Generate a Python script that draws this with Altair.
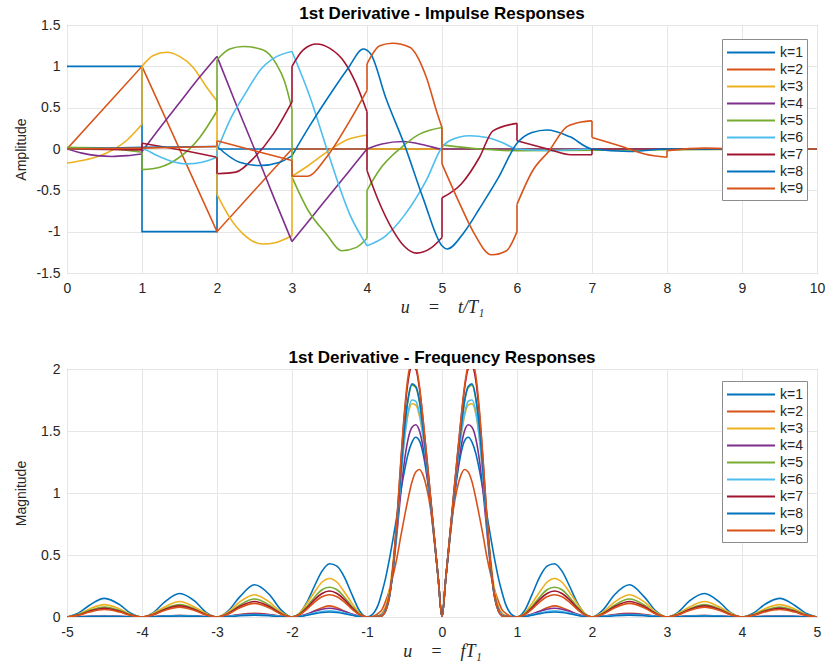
import altair as alt
import pandas as pd

K_LABELS = ["k=1", "k=2", "k=3", "k=4", "k=5", "k=6", "k=7", "k=8", "k=9"]
COLORS = ["#0072BD", "#D95319", "#EDB120", "#7E2F8E", "#77AC30",
          "#4DBEEE", "#A2142F", "#0072BD", "#D95319"]

# ---------------- impulse responses (u = t/T1, amplitude) ----------------
# a repeated u value marks a jump (or a sharp corner when the amplitude repeats too)
T1_u = [0, 1, 1, 2, 2, 10]
T1_a = [1, 1, -1, -1, 0, 0]
T2_u = [0, 1, 2, 3, 10]
T2_a = [0, 1, -1, 0, 0]
T3_u = [0, 0.25, 0.5, 0.79, 1, 1, 1.15, 1.33, 1.5, 1.68, 1.86, 2,
        2, 2.17, 2.35, 2.61, 2.79, 3, 3, 3.22, 3.49, 3.76, 4, 4, 10]
T3_a = [-0.17, -0.13, -0.06, 0.1, 0.3, 1.0, 1.13, 1.17, 1.12, 0.99, 0.75, 0.58,
        -0.55, -0.83, -1.03, -1.15, -1.13, -1.05, -0.33, -0.2, -0.02, 0.12, 0.17, 0, 0]
T4_u = [0, 0.2, 0.4, 0.6, 0.8, 1, 1, 1.25, 1.5, 1.75, 2, 2, 2.25, 2.5, 2.75, 3, 3,
        3.25, 3.5, 3.75, 4, 4, 4.2, 4.48, 4.8, 5, 10]
T4_a = [0, -0.05, -0.08, -0.09, -0.08, -0.06, -0.03, 0.27, 0.56, 0.85, 1.12, 1.12, 0.55, 0.0, -0.57, -1.12, -1.12,
        -0.84, -0.56, -0.28, 0.0, 0.0, 0.06, 0.09, 0.04, 0.0, 0]
T5_u = [0, 0.5, 1, 1, 1.24, 1.5, 1.77, 2, 2, 2.17, 2.35, 2.61, 2.79, 2.9, 3,
        3, 3.22, 3.46, 3.66, 3.86, 4, 4, 4.16, 4.46, 4.7, 5, 5, 5.5, 6, 10]
T5_a = [0.02, 0.01, -0.04, -0.25, -0.22, -0.1, 0.14, 0.46, 1.08, 1.21, 1.24, 1.2, 1.03, 0.82, 0.48,
        -0.34, -0.75, -1.03, -1.23, -1.19, -1.08, -0.5, -0.26, 0.02, 0.18, 0.26, 0.05, 0.0, -0.02, 0]
T6_u = [0, 1, 1.2, 1.4, 1.6, 1.8, 2, 2, 2.2, 2.35, 2.6, 2.8, 3, 3, 3.24, 3.5, 3.77, 4, 4,
        4.25, 4.5, 4.79, 5, 5.1, 5.37, 5.6, 5.8, 6, 6.5, 7, 10]
T6_a = [0, 0, -0.08, -0.15, -0.18, -0.16, -0.1, -0.02, 0.4, 0.63, 0.98, 1.12, 1.18, 1.18, 0.63, -0.1, -0.79, -1.17, -1.17,
        -1.05, -0.8, -0.38, 0.02, 0.1, 0.16, 0.14, 0.08, 0.0, -0.02, 0, 0]
T7_u = [0, 1, 1, 1.5, 2, 2, 2.25, 2.5, 2.75, 3, 3, 3.15, 3.33, 3.5, 3.7, 3.85, 4,
        4, 4.15, 4.35, 4.5, 4.66, 4.85, 5, 5, 5.26, 5.5, 5.68, 6, 6, 6.41, 6.72, 7, 7, 8, 10]
T7_a = [0, -0.01, 0.07, -0.01, -0.1, -0.3, -0.28, -0.1, 0.18, 0.57, 1.0, 1.2, 1.27, 1.22, 1.05, 0.8, 0.45,
        -0.26, -0.62, -0.99, -1.18, -1.26, -1.2, -1.07, -0.59, -0.42, -0.1, 0.22, 0.31, 0.1, 0.0, -0.07, -0.07, 0, 0, 0]
T8_u = [0, 1, 2, 2, 2.3, 2.57, 2.84, 3, 3, 3.25, 3.5, 3.75, 3.95, 4.05, 4.25, 4.5, 4.75, 5, 5.07,
        5.3, 5.5, 5.75, 6, 6.2, 6.4, 6.7, 7, 7.5, 8, 10]
T8_a = [0, 0.02, 0.03, 0.03, -0.16, -0.2, -0.16, -0.08, -0.08, 0.3, 0.65, 0.98, 1.21, 1.15, 0.62, 0.05, -0.6, -1.17, -1.21,
        -1.0, -0.72, -0.35, 0.07, 0.2, 0.23, 0.15, 0.0, -0.03, 0, 0]
T9_u = [0, 1, 2, 2, 2.5, 3, 3, 3.2, 3.46, 3.77, 4, 4, 4.17, 4.34, 4.57, 4.79, 4.94, 5,
        5, 5.24, 5.41, 5.66, 5.86, 6, 6, 6.21, 6.43, 6.65, 6.82, 7, 7, 7.4, 7.7, 8, 8, 8.5, 9, 10]
T9_a = [0, 0.01, 0.03, 0.1, -0.02, -0.14, -0.33, -0.33, -0.1, 0.34, 0.71, 1.03, 1.25, 1.28, 1.23, 0.87, 0.42, 0.26,
        -0.18, -0.67, -0.99, -1.28, -1.23, -1.0, -0.67, -0.26, -0.02, 0.26, 0.32, 0.34, 0.14, 0.03, -0.06, -0.1, -0.02, 0.01, 0, 0]

T_U = [T1_u, T2_u, T3_u, T4_u, T5_u, T6_u, T7_u, T8_u, T9_u]
T_A = [T1_a, T2_a, T3_a, T4_a, T5_a, T6_a, T7_a, T8_a, T9_a]
PIECEWISE_LINEAR = ["k=1", "k=2"]

# ---------------- frequency responses (u = f T1 >= 0, magnitude; symmetric) ----------------
G = [0, .05, .1, .15, .2, .25, .3, .35, .4, .45, .5, .55, .6, .65, .7, .75, .8, .85, .9, .95, 1.0,
     1.1, 1.2, 1.3, 1.4, 1.5, 1.6, 1.7, 1.8, 1.9, 2.0,
     2.15, 2.3, 2.5, 2.7, 2.85, 3.0,
     3.15, 3.3, 3.5, 3.7, 3.85, 4.0,
     4.15, 4.3, 4.5, 4.7, 4.85, 5.0]
F1 = [0, .31, .61, .89, 1.13, 1.31, 1.42, 1.45, 1.41, 1.32, 1.18, 1.01, .82, .64, .47, .32, .20, .10, .04, .01, 0,
      .05, .18, .32, .41, .43, .37, .25, .12, .03, 0,
      .06, .18, .26, .16, .05, 0,
      .04, .13, .19, .12, .035, 0,
      .03, .10, .15, .095, .03, 0]
F2 = [0, .31, .60, .86, 1.03, 1.14, 1.19, 1.17, 1.09, .96, .81, .65, .48, .34, .22, .13, .06, .03, .01, 0, 0,
      .005, .02, .045, .075, .09, .075, .05, .02, .005, 0,
      .005, .02, .03, .02, .005, 0,
      .003, .009, .012, .008, .003, 0,
      .002, .004, .006, .004, .002, 0]
F3 = [0, .31, .62, .92, 1.2, 1.44, 1.62, 1.71, 1.72, 1.64, 1.44, 1.13, .78, .46, .22, .09, .03, .01, 0, 0, 0,
      .03, .11, .20, .28, .31, .28, .20, .11, .03, 0,
      .04, .12, .18, .12, .04, 0,
      .03, .08, .125, .08, .03, 0,
      .02, .065, .10, .065, .02, 0]
F4 = [0, .31, .61, .90, 1.15, 1.36, 1.50, 1.55, 1.53, 1.44, 1.26, 1.0, .68, .39, .18, .07, .02, .01, 0, 0, 0,
      .007, .025, .046, .063, .07, .063, .046, .025, .007, 0,
      .006, .017, .025, .017, .006, 0,
      .003, .008, .012, .008, .003, 0,
      .002, .005, .008, .005, .002, 0]
F5 = [0, .31, .62, .93, 1.23, 1.5, 1.73, 1.85, 1.87, 1.76, 1.51, 1.15, .75, .41, .18, .06, .02, .005, 0, 0, 0,
      .025, .085, .16, .22, .24, .22, .16, .085, .025, 0,
      .03, .095, .145, .095, .03, 0,
      .02, .065, .10, .065, .02, 0,
      .018, .053, .08, .053, .018, 0]
F6 = [0, .31, .62, .92, 1.2, 1.45, 1.64, 1.74, 1.75, 1.66, 1.43, 1.10, .73, .40, .17, .06, .02, 0, 0, 0, 0,
      .005, .018, .033, .045, .05, .045, .033, .018, .005, 0,
      .004, .013, .02, .013, .004, 0,
      .002, .007, .01, .007, .002, 0,
      .001, .003, .005, .003, .001, 0]
F7 = [0, .31, .63, .95, 1.27, 1.57, 1.84, 2.0, 2.02, 1.91, 1.63, 1.23, .79, .42, .17, .05, .01, 0, 0, 0, 0,
      .02, .075, .14, .19, .21, .19, .14, .075, .02, 0,
      .028, .083, .125, .083, .028, 0,
      .02, .06, .09, .06, .02, 0,
      .015, .046, .07, .046, .015, 0]
F8 = [0, .31, .62, .93, 1.23, 1.5, 1.74, 1.86, 1.88, 1.77, 1.52, 1.15, .74, .40, .16, .05, .01, 0, 0, 0, 0,
      .004, .014, .026, .036, .04, .036, .026, .014, .004, 0,
      .003, .01, .015, .01, .003, 0,
      .002, .005, .008, .005, .002, 0,
      .001, .003, .004, .003, .001, 0]
F9 = [0, .31, .63, .95, 1.27, 1.58, 1.86, 2.03, 2.06, 1.95, 1.66, 1.25, .80, .42, .17, .05, .01, 0, 0, 0, 0,
      .018, .063, .12, .163, .18, .163, .12, .063, .018, 0,
      .024, .073, .11, .073, .024, 0,
      .018, .053, .08, .053, .018, 0,
      .013, .04, .06, .04, .013, 0]
F_ALL = [F1, F2, F3, F4, F5, F6, F7, F8, F9]

# ---------------- tables ----------------
lin_rows, seg_rows, jump_rows = [], [], []
for lab, us, ys in zip(K_LABELS, T_U, T_A):
    if lab in PIECEWISE_LINEAR:
        for i, (u, y) in enumerate(zip(us, ys)):
            lin_rows.append({"k": lab, "u": u, "amp": y, "i": i})
        continue
    seg = 0
    for i in range(len(us)):
        if i > 0 and us[i] == us[i - 1]:
            seg += 1
            jid = f"{lab}-j{i}"
            jump_rows.append({"k": lab, "u": us[i - 1], "amp": ys[i - 1], "j": jid, "i": 0})
            jump_rows.append({"k": lab, "u": us[i], "amp": ys[i], "j": jid, "i": 1})
        seg_rows.append({"k": lab, "u": us[i], "amp": ys[i], "s": f"{lab}-s{seg}", "i": i})
lin_df = pd.DataFrame(lin_rows)
seg_df = pd.DataFrame(seg_rows)
jump_df = pd.DataFrame(jump_rows)

rows = []
for lab, vals in zip(K_LABELS, F_ALL):
    xs = [-g for g in G[::-1]] + G[1:]
    ys = vals[::-1] + vals[1:]
    for i, (u, y) in enumerate(zip(xs, ys)):
        rows.append({"k": lab, "u": u, "mag": y, "i": i})
freq = pd.DataFrame(rows)

FONT = "Liberation Sans"
TXT = "#262626"
LW = 1.6


def legend(ly):
    return alt.Legend(title=None, orient="none", legendX=655, legendY=ly,
                      symbolType="M-1,0H4.65", symbolSize=289, symbolStrokeWidth=2,
                      labelFontSize=14, labelFont=FONT, labelColor=TXT, labelOffset=35,
                      fillColor="white", strokeColor="#8c8c8c", padding=4, rowPadding=0)


def color(ly):
    return alt.Color("k:N", scale=alt.Scale(domain=K_LABELS, range=COLORS), legend=legend(ly))


def xaxis(vals, title):
    return alt.Axis(values=vals, title=title, labelExpr="'' + datum.value",
                    labelFlush=False, labelOverlap=False,
                    labelPadding=8, titlePadding=3, titleFont="Liberation Serif",
                    titleFontStyle="italic", titleFontWeight="normal", titleFontSize=18,
                    titleColor=TXT)


def yaxis(vals, title):
    return alt.Axis(values=vals, title=title, labelExpr="'' + datum.value",
                    labelFlush=False, labelOverlap=False,
                    labelPadding=7, titleX=-39, titleFontSize=14, titleFont=FONT,
                    titleFontWeight="normal", titleColor=TXT)


def ttl(text):
    return alt.Title(text, fontSize=17, font=FONT, fontWeight="bold", anchor="middle",
                     frame="group", offset=-5, color="black")


x_top = alt.X("u:Q", scale=alt.Scale(domain=[0, 10], nice=False),
              axis=xaxis(list(range(0, 11)), "u\u2003=\u2003t/T\u2081"))
y_top = alt.Y("amp:Q", scale=alt.Scale(domain=[-1.5, 1.5], nice=False),
              axis=yaxis([-1.5, -1, -0.5, 0, 0.5, 1, 1.5], "Amplitude"))

top_lin = alt.Chart(lin_df).mark_line(strokeWidth=LW, clip=True).encode(
    x=x_top, y=y_top, color=color(14), order="i:Q")
top_smooth = alt.Chart(seg_df).mark_line(strokeWidth=LW, clip=True, interpolate="monotone").encode(
    x=x_top, y=y_top, color=color(14), detail="s:N", order="i:Q")
top_jump = alt.Chart(jump_df).mark_line(strokeWidth=LW, clip=True).encode(
    x=x_top, y=y_top, color=color(14), detail="j:N", order="i:Q")
top = alt.layer(top_lin, top_smooth, top_jump).properties(
    width=750, height=248, title=ttl("1st Derivative - Impulse Responses"))

bottom = alt.Chart(freq).mark_line(strokeWidth=LW, clip=True, interpolate="monotone").encode(
    x=alt.X("u:Q", scale=alt.Scale(domain=[-5, 5], nice=False),
            axis=xaxis(list(range(-5, 6)), "u\u2003=\u2003fT\u2081")),
    y=alt.Y("mag:Q", scale=alt.Scale(domain=[0, 2], nice=False),
            axis=yaxis([0, 0.5, 1, 1.5, 2], "Magnitude")),
    color=color(12),
    order="i:Q",
).properties(width=750, height=248, title=ttl("1st Derivative - Frequency Responses"))

chart = alt.vconcat(top, bottom, spacing=31).resolve_scale(
    color="independent").resolve_legend(color="independent").properties(
    padding={"left": 13, "top": 4, "right": 5, "bottom": 2},
    background="white",
).configure_view(stroke="#8c8c8c", strokeWidth=1).configure_axis(
    grid=True, gridColor="#e6e6e6", gridWidth=1, domain=False, ticks=False,
    labelFont=FONT, labelFontSize=14, labelColor=TXT,
)

chart.save("out.html", embed_options={"renderer": "svg", "actions": False})
